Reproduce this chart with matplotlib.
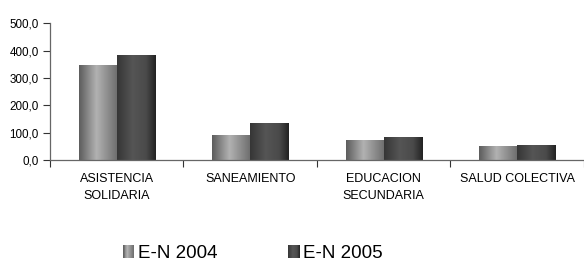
import numpy as np
import matplotlib
matplotlib.use("Agg")
import matplotlib.pyplot as plt
from matplotlib.colors import LinearSegmentedColormap
from matplotlib.patches import Rectangle
from matplotlib.legend_handler import HandlerBase

categories = ["ASISTENCIA\nSOLIDARIA", "SANEAMIENTO", "EDUCACION\nSECUNDARIA", "SALUD COLECTIVA"]
series_names = ["E-N 2004", "E-N 2005"]
values_2004 = [347, 93, 73, 51]
values_2005 = [384, 137, 84, 55]
yticks = [0, 100, 200, 300, 400, 500]
ytick_labels = ["0,0", "100,0", "200,0", "300,0", "400,0", "500,0"]

plt.rcParams['font.family'] = ['Liberation Sans', 'DejaVu Sans']

cmap_light = LinearSegmentedColormap.from_list(
    "light", [(0, "#5c5c5c"), (0.45, "#b2b2b2"), (1.0, "#6c6c6c")])
cmap_dark = LinearSegmentedColormap.from_list(
    "dark", [(0, "#363636"), (0.4, "#555555"), (0.75, "#4a4a4a"), (1.0, "#222222")])

fig = plt.figure(figsize=(5.84, 2.64), dpi=100)
ax = fig.add_axes([0.0856, 0.394, 0.9144, 0.518])

x = np.arange(len(categories))
w = 0.285
grad = np.linspace(0, 1, 256).reshape(1, -1)

for vals, cm, off in [(values_2004, cmap_light, -w / 2), (values_2005, cmap_dark, w / 2)]:
    bars = ax.bar(x + off, vals, width=w, facecolor="none", edgecolor="none", zorder=2)
    for p in bars:
        x0, y0 = p.get_x(), p.get_y()
        im = ax.imshow(grad, cmap=cm, aspect="auto", interpolation="bilinear",
                       extent=[x0, x0 + p.get_width(), y0, y0 + p.get_height()], zorder=2)
        im.set_clip_path(p)

ax.set_xlim(-0.5, len(categories) - 0.5)
ax.set_ylim(0, 500)
ax.set_yticks(yticks)
ax.set_yticklabels(ytick_labels)

ax.set_xticks(np.arange(len(categories) + 1) - 0.5)
ax.set_xticklabels([])
ax.set_xticks(x, minor=True)
ax.set_xticklabels(categories, minor=True, linespacing=1.57, fontsize=9)
ax.tick_params(axis="x", which="minor", length=0, pad=9.5)
ax.tick_params(axis="x", which="major", length=5, direction="out", color="#333333", width=0.8)
ax.tick_params(axis="y", length=5, direction="out", color="#333333", width=0.8, labelsize=8.4, pad=3)

for s in ["top", "right"]:
    ax.spines[s].set_visible(False)
for s in ["left", "bottom"]:
    ax.spines[s].set_color("#666666")
    ax.spines[s].set_linewidth(0.9)


class GradHandler(HandlerBase):
    def __init__(self, cm):
        super().__init__()
        self.cm = cm

    def create_artists(self, legend, orig_handle, xdescent, ydescent, width, height, fontsize, trans):
        n = 12
        side = width
        x0 = -xdescent
        y0 = -ydescent + (height - side * 1.1) / 2
        arts = []
        for i in range(n):
            r = Rectangle((x0 + i * side / n, y0), side / n + 0.05, side * 1.1,
                          facecolor=self.cm((i + 0.5) / n), edgecolor="none", transform=trans)
            arts.append(r)
        return arts


h1 = Rectangle((0, 0), 1, 1)
h2 = Rectangle((0, 0), 1, 1)
fig.legend([h1, h2], series_names, handler_map={h1: GradHandler(cmap_light), h2: GradHandler(cmap_dark)},
           loc="center", bbox_to_anchor=(0.433, 0.04), ncol=2, frameon=False,
           fontsize=13.5, handlelength=0.6, handletextpad=0.2, columnspacing=3.8)

fig.savefig("out.png", dpi=100)
